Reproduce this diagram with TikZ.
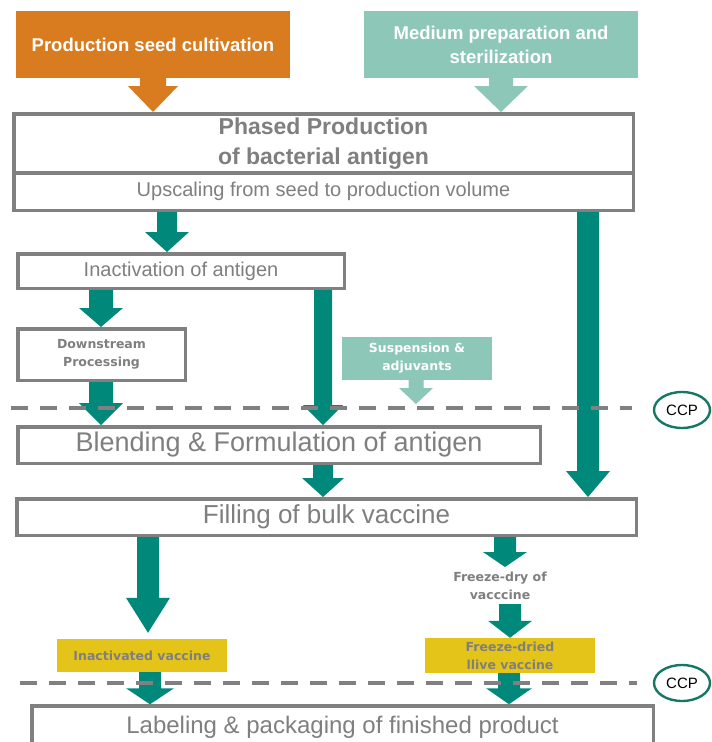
\documentclass[tikz,border=0pt]{standalone}
\usepackage{fontspec}
\setmainfont{Liberation Sans}
\newfontfamily\labelfont{DejaVu Sans}
\usetikzlibrary{calc,shapes.geometric}

\definecolor{seedorange}{RGB}{217,123,31}
\definecolor{medteal}{RGB}{141,199,184}
\definecolor{flowteal}{RGB}{0,137,123}
\definecolor{ccpteal}{RGB}{20,120,100}
\definecolor{vacgold}{RGB}{229,196,26}
\definecolor{linegray}{RGB}{128,128,128}
\definecolor{txtgray}{RGB}{127,127,127}

% vertical block arrow: [colour]{start}{end}{shaft half-width}{head half-width}{head length}
\newcommand\blockarrow[6][flowteal]{%
  \fill[#1] let \p1=#2, \p2=#3 in
    (\x1-#4,\y1) -- (\x1+#4,\y1) -- (\x1+#4,\y2+#6) -- (\x1+#5,\y2+#6)
    -- (\x1,\y2) -- (\x1-#5,\y2+#6) -- (\x1-#4,\y2+#6) -- cycle;}

\begin{document}
\begin{tikzpicture}[x=1pt,y=-1pt,
  outlinebox/.style={draw=linegray, line width=3.5pt, fill=white, text=txtgray,
                     inner sep=0pt, align=center},
  colorbox/.style={inner sep=0pt, align=center},
  headfont/.style={font=\fontsize{18.5}{24}\selectfont\bfseries, text=white},
  smallfont/.style={font=\labelfont\bfseries\fontsize{12.5}{18}\selectfont},
  ccpmark/.style={ellipse, draw=ccpteal, line width=2.4pt, fill=white,
                  minimum width=56pt, minimum height=36pt, inner sep=0pt,
                  font=\fontsize{15}{18}\selectfont, text=black},
  gateline/.style={draw=linegray, line width=4.5pt, dash pattern=on 17pt off 12pt},
]
\useasboundingbox (0,0) rectangle (712,742);
\clip (0,0) rectangle (712,742);
\fill[white] (0,0) rectangle (712,742);

% inputs
\node[colorbox, fill=seedorange, minimum width=274pt, minimum height=67pt, headfont]
  (seed) at (153,44.5) {Production seed cultivation};
\node[colorbox, fill=medteal, minimum width=274pt, minimum height=67pt, headfont]
  (medium) at (501,44.5) {Medium preparation and\\sterilization};

% production stages
\node[outlinebox, minimum width=619.5pt, minimum height=59.3pt,
      font=\fontsize{23}{30}\selectfont\bfseries]
  (phased) at (323.5,143.4) {Phased Production\\of bacterial antigen};
\node[outlinebox, minimum width=619.5pt, minimum height=37.3pt,
      font=\fontsize{20}{24}\selectfont]
  (upscale) at (323.5,191.6) {Upscaling from seed to production volume};
\node[outlinebox, minimum width=326.5pt, minimum height=34.5pt,
      font=\fontsize{20}{24}\selectfont]
  (inact) at (181,271) {Inactivation of antigen};
\node[outlinebox, minimum width=167.5pt, minimum height=51.5pt, smallfont]
  (down) at (101.5,354.5) {Downstream\\Processing};
\node[colorbox, fill=medteal, minimum width=150pt, minimum height=43pt, smallfont, text=white]
  (susp) at (417,358.5) {Suspension \&\\adjuvants};
\node[outlinebox, minimum width=522.5pt, minimum height=36.5pt,
      font=\fontsize{27}{30}\selectfont]
  (blend) at (279,445) {Blending \& Formulation of antigen};
\node[outlinebox, minimum width=619.5pt, minimum height=36.5pt,
      font=\fontsize{26}{30}\selectfont]
  (fill) at (326.5,517) {Filling of bulk vaccine};
\node[smallfont, text=txtgray, align=center, inner sep=0pt]
  (freeze) at (500,586) {Freeze-dry of\\vacccine};
\node[colorbox, fill=vacgold, minimum width=170pt, minimum height=33pt, smallfont, text=txtgray]
  (inactvac) at (142,655.5) {Inactivated vaccine};
\node[colorbox, fill=vacgold, minimum width=170pt, minimum height=35pt, smallfont, text=txtgray]
  (fdried) at (510,655.5) {Freeze-dried\\llive vaccine};
\node[outlinebox, minimum width=621.5pt, minimum height=42pt,
      font=\fontsize{24}{28}\selectfont]
  (lab) at (342.5,727) {Labeling \& packaging of finished product};

\coordinate (suspin) at (416,404);
\coordinate (fdin) at (505,567);
\coordinate (fdout) at (510,604);

% flow arrows
\blockarrow[seedorange]{(seed.south)}{(phased.north)}{13pt}{25pt}{26pt}
\blockarrow[medteal]{(medium.south)}{(phased.north)}{12pt}{27pt}{26pt}
\blockarrow{(167,0 |- upscale.south)}{(inact.north)}{10pt}{22pt}{20pt}
\blockarrow{(588,0 |- upscale.south)}{(fill.north)}{11pt}{22pt}{26pt}
\blockarrow{(101,0 |- inact.south)}{(down.north)}{12pt}{22pt}{19pt}
\blockarrow{(101,0 |- down.south)}{(blend.north)}{12pt}{22pt}{22pt}
\blockarrow{(323,0 |- inact.south)}{(blend.north)}{9pt}{20pt}{20pt}
\blockarrow[medteal]{(416,0 |- susp.south)}{(suspin)}{7.5pt}{17pt}{16pt}
\blockarrow{(323,0 |- blend.south)}{(fill.north)}{10pt}{21pt}{19pt}
\blockarrow{(148,0 |- fill.south)}{($(inactvac.north)+(0,-6)$)}{11pt}{22pt}{35pt}
\blockarrow{(505,0 |- fill.south)}{(fdin)}{11pt}{22pt}{15pt}
\blockarrow{(fdout)}{(fdried.north)}{11pt}{22pt}{17pt}
\blockarrow{(150,0 |- inactvac.south)}{(lab.north)}{11pt}{24pt}{16pt}
\blockarrow{(509,0 |- fdried.south)}{(lab.north)}{11pt}{23pt}{16pt}

% critical control points
\draw[gateline] (11,408) -- (632,408);
\draw[gateline] (20,683) -- (637,683);
\node[ccpmark] (ccpa) at (682,410) {CCP};
\node[ccpmark] (ccpb) at (682,683) {CCP};
\end{tikzpicture}
\end{document}
